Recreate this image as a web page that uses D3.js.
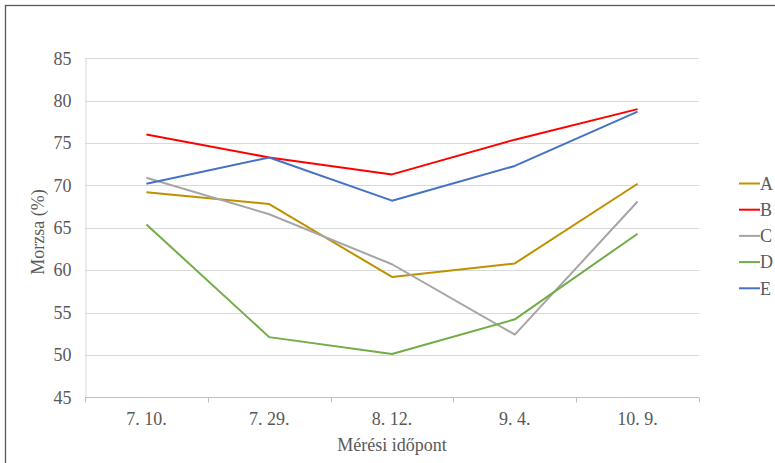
<!DOCTYPE html>
<html>
<head>
<meta charset="utf-8">
<script src="https://cdn.jsdelivr.net/npm/d3@7"></script>
<style>
  html, body { margin: 0; padding: 0; background: #fff; }
  svg { display: block; }
</style>
</head>
<body>
<svg id="chart" width="775" height="463"></svg>
<script>
// Measurement dates and moisture values (%) for each sample
const dates = ["7. 10.", "7. 29.", "8. 12.", "9. 4.", "10. 9."];
const seriesNames = ["A", "B", "C", "D", "E"];
const seriesColors = ["#BF9000", "#FF0000", "#A5A5A5", "#70AD47", "#4472C4"];
const valuesA = [69.2, 67.8, 59.2, 60.8, 70.2];
const valuesB = [76.0, 73.3, 71.3, 75.4, 79.0];
const valuesC = [70.9, 66.6, 60.7, 52.4, 68.1];
const valuesD = [65.4, 52.1, 50.1, 54.2, 64.3];
const valuesE = [70.2, 73.3, 68.2, 72.3, 78.7];
const yTicks = [45, 50, 55, 60, 65, 70, 75, 80, 85];

const FONT = "'Liberation Serif', 'Times New Roman', serif";
const TEXT_COLOR = "#595959";

const series = [valuesA, valuesB, valuesC, valuesD, valuesE].map((v, i) => ({
  name: seriesNames[i], color: seriesColors[i], values: v
}));

const svg = d3.select("#chart");
const plot = { left: 85, right: 699, top: 58.3, bottom: 397.3 };

function styleText(sel) {
  return sel.style("font-family", FONT).style("font-size", "18px").style("fill", TEXT_COLOR);
}

// Outer chart frame (extends beyond the right and bottom edges)
svg.append("rect")
  .attr("x", 5.5).attr("y", 5.5)
  .attr("width", 800).attr("height", 500)
  .attr("fill", "none").attr("stroke", "#595959").attr("stroke-width", 1.3);

const x = d3.scaleBand().domain(dates).range([plot.left, plot.right]);
const y = d3.scaleLinear().domain([45, 85]).range([plot.bottom, plot.top]);

// Horizontal gridlines
svg.append("g").selectAll("line").data(yTicks.filter(t => t > 45)).join("line")
  .attr("x1", plot.left).attr("x2", plot.right)
  .attr("y1", d => Math.round(y(d)) + 0.5).attr("y2", d => Math.round(y(d)) + 0.5)
  .attr("stroke", "#D9D9D9").attr("stroke-width", 1);

// Y axis labels and vertical axis line
const yAxis = d3.axisLeft(y).tickValues(yTicks).tickSize(0).tickPadding(14);
const gy = svg.append("g").attr("transform", `translate(${plot.left + 0.5},0)`).call(yAxis);
gy.attr("font-family", null);
gy.select(".domain").attr("stroke", "#D9D9D9");
styleText(gy.selectAll("text"));

// X axis with ticks at category boundaries
const gx = svg.append("g").attr("transform", `translate(0,${Math.round(plot.bottom) + 0.5})`);
gx.append("line").attr("x1", plot.left).attr("x2", plot.right)
  .attr("stroke", "#BFBFBF").attr("stroke-width", 1);
const bounds = dates.map(d => x(d)).concat([plot.right]);
gx.selectAll("line.tick").data(bounds).join("line").attr("class", "tick")
  .attr("x1", d => Math.round(d) + 0.5).attr("x2", d => Math.round(d) + 0.5)
  .attr("y1", 0).attr("y2", 5)
  .attr("stroke", "#BFBFBF").attr("stroke-width", 1);
styleText(gx.selectAll("text").data(dates).join("text")
  .attr("x", d => x(d) + x.bandwidth() / 2).attr("y", 27)
  .attr("text-anchor", "middle").text(d => d));

// Series lines
const line = d3.line()
  .x((d, i) => x(dates[i]) + x.bandwidth() / 2)
  .y(d => y(d));
svg.append("g").selectAll("path").data(series).join("path")
  .attr("d", d => line(d.values))
  .attr("fill", "none").attr("stroke", d => d.color)
  .attr("stroke-width", 2).attr("stroke-linejoin", "round");

// Axis titles
styleText(svg.append("text").attr("x", 392).attr("y", 451)
  .attr("text-anchor", "middle").text("Mérési időpont"));
styleText(svg.append("text").attr("transform", "translate(44,232) rotate(-90)")
  .attr("text-anchor", "middle").text("Morzsa (%)"));

// Legend
const legend = svg.append("g").selectAll("g").data(series).join("g")
  .attr("transform", (d, i) => `translate(739,${183.5 + i * 26.2})`);
legend.append("line").attr("x1", 0).attr("x2", 21).attr("y1", 0).attr("y2", 0)
  .attr("stroke", d => d.color).attr("stroke-width", 2);
styleText(legend.append("text").attr("x", 21).attr("y", 0).attr("dy", "0.35em")
  .text(d => d.name));
</script>
</body>
</html>
